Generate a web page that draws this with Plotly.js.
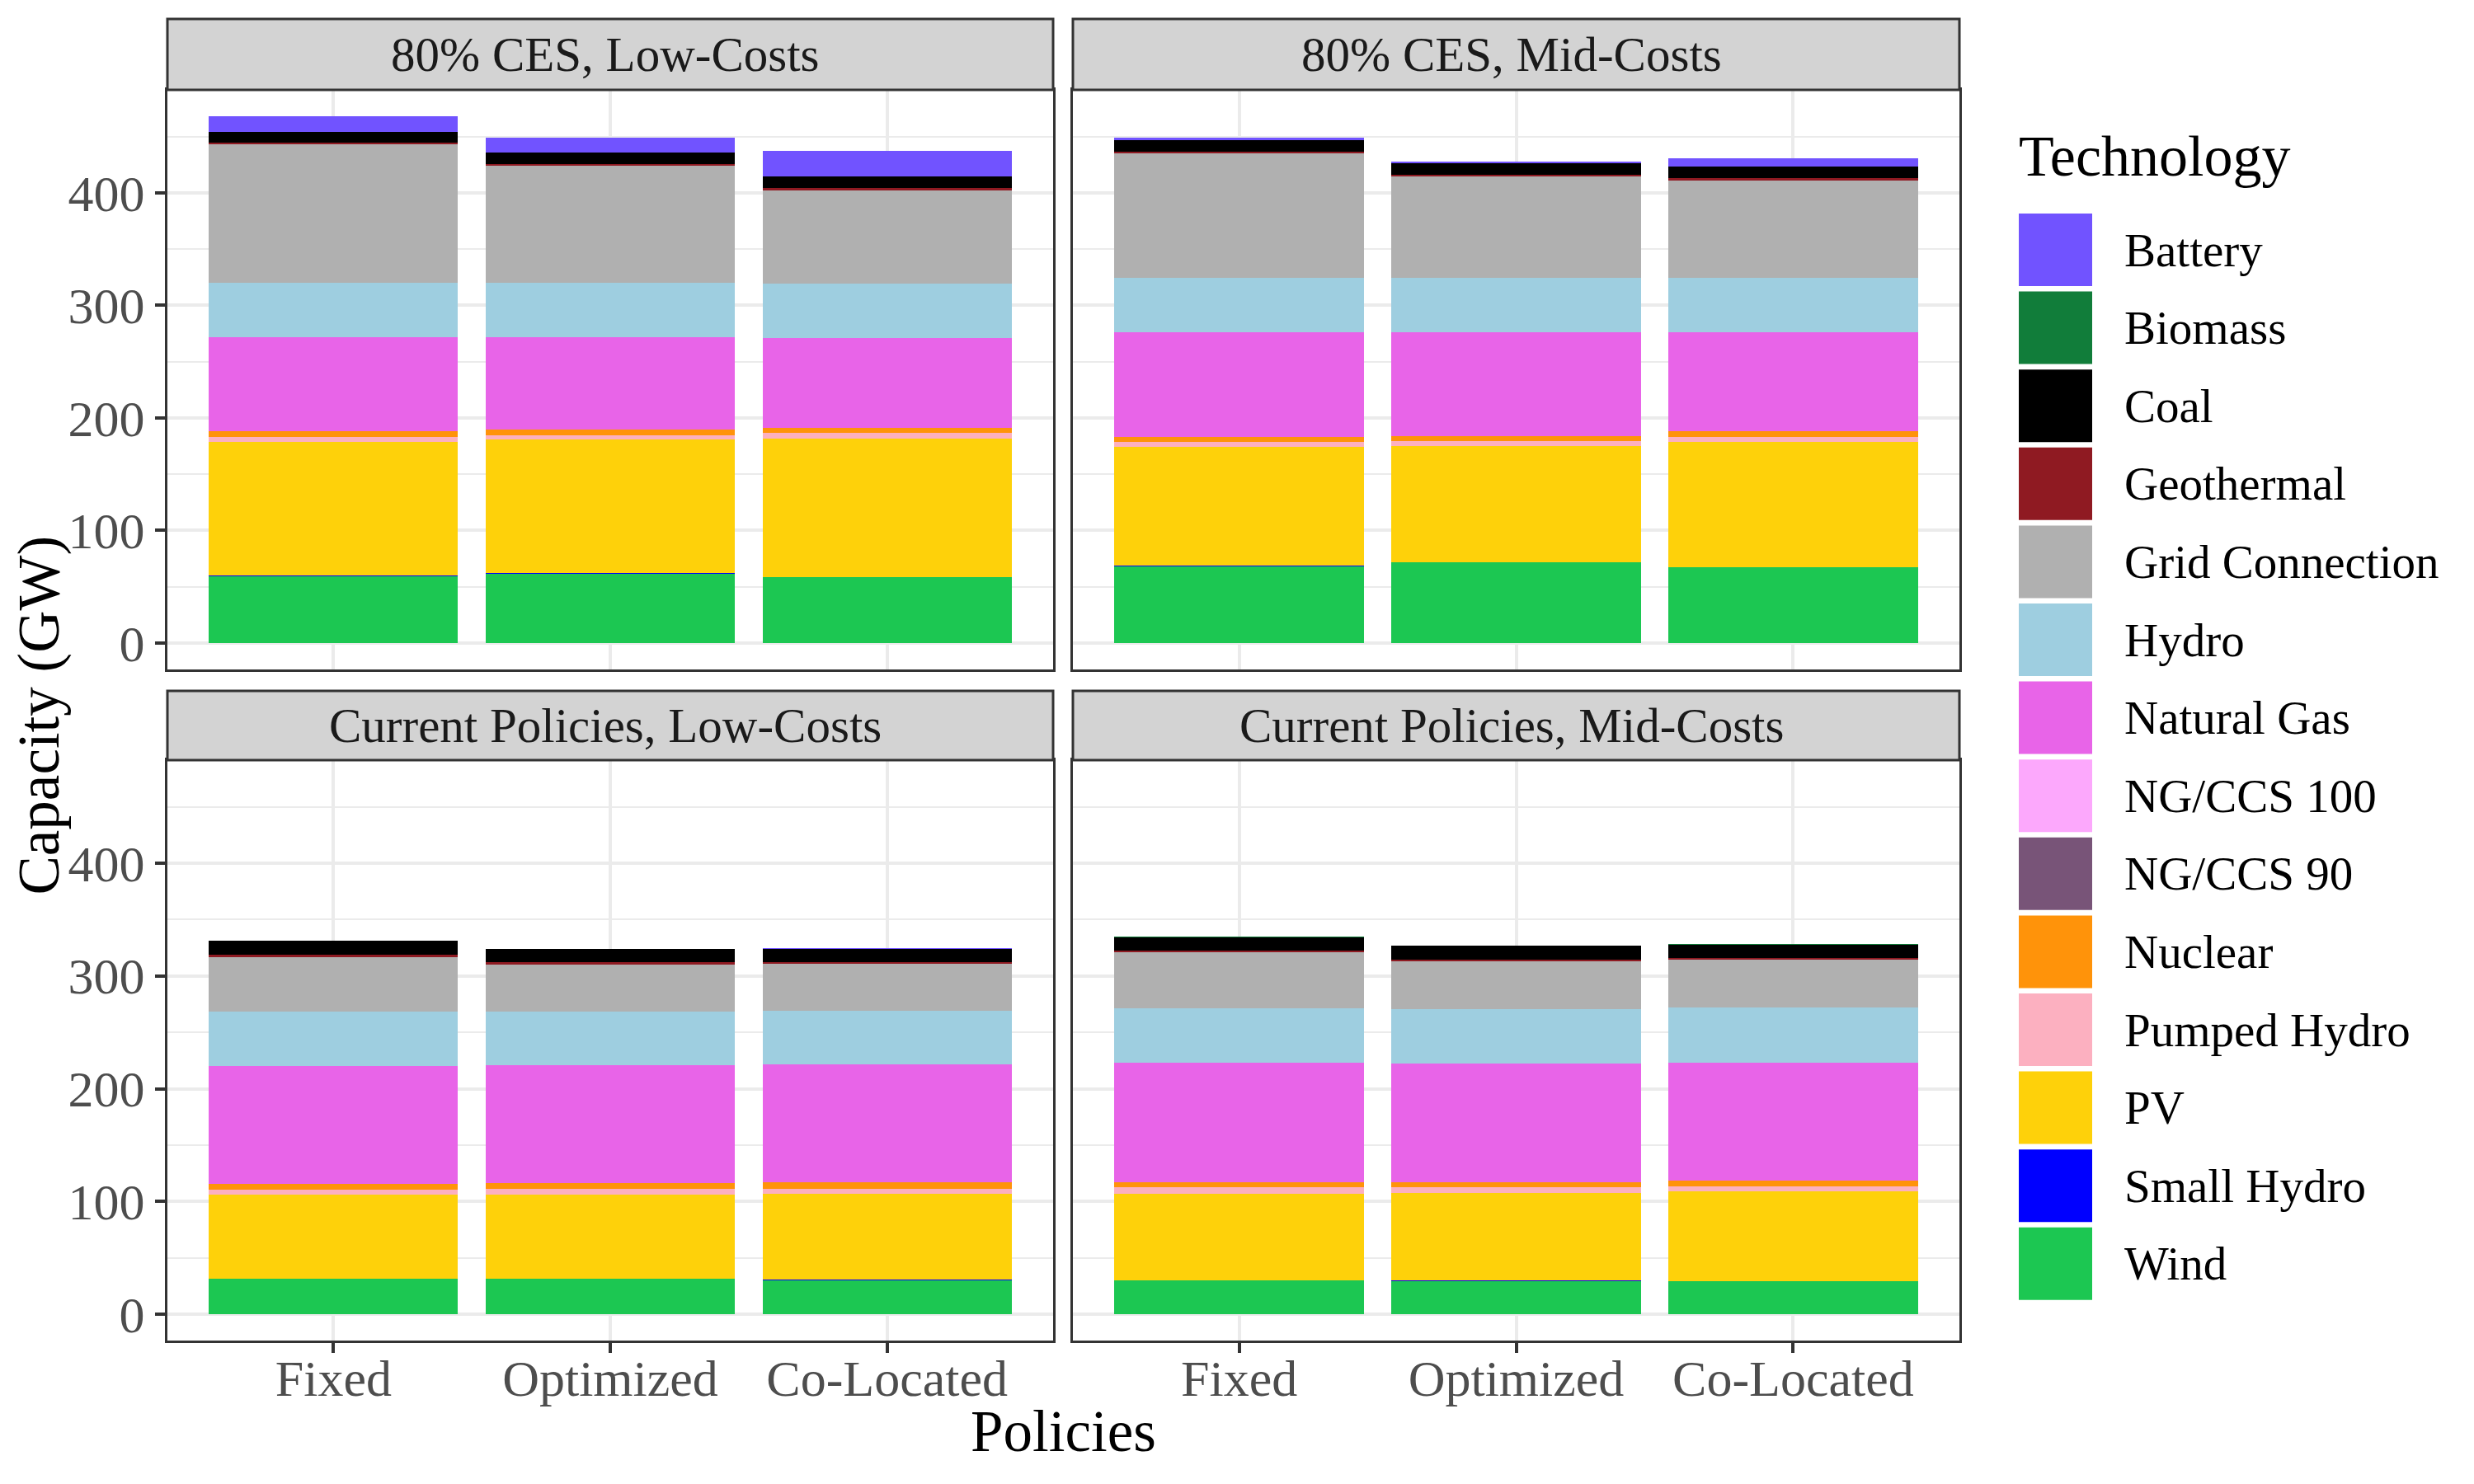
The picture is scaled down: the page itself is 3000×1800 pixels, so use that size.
<!DOCTYPE html>
<html>
<head>
<meta charset="utf-8">
<script src="https://cdn.plot.ly/plotly-3.0.1.min.js"></script>
<style>body{margin:0;background:#fff}</style>
</head>
<body>
<div id="chart" style="width:3000px;height:1800px"></div>
<script>

// ---- data ----
var policies = ['Fixed', 'Optimized', 'Co-Located']
var panels = ['80% CES, Low-Costs', '80% CES, Mid-Costs', 'Current Policies, Low-Costs', 'Current Policies, Mid-Costs']

// legend order (top of stack first)
var techs = ['Battery', 'Biomass', 'Coal', 'Geothermal', 'Grid Connection', 'Hydro', 'Natural Gas',
             'NG/CCS 100', 'NG/CCS 90', 'Nuclear', 'Pumped Hydro', 'PV', 'Small Hydro', 'Wind']
var techColors = ['#7153FF', '#117D3A', '#000000', '#8F1A22', '#B0B0B0', '#9ECEE0', '#E864E8',
                  '#FCA8FC', '#785478', '#FF930A', '#FCB0C0', '#FED10A', '#0000FF', '#1CC752']

// GW, 12 values each: panel by panel (order of panels), Fixed/Optimized/Co-Located inside
var battery =     [14.0, 13.2, 22.7,   1.7,  1.7,  7.3,    0.0,  0.0,  0.5,    0.0,  0.0,  0.0]
var biomass =     [ 0.1,  0.3,  0.1,   0.1,  0.1,  0.1,    0.3,  0.3,  0.3,    0.3,  0.3,  0.3]
var coal =        [10.0, 10.3, 10.5,  10.3, 10.0, 10.3,   12.1, 11.7, 11.4,   11.7, 11.8, 11.7]
var geothermal =  [ 1.4,  1.4,  2.0,   1.4,  1.7,  2.1,    2.1,  1.7,  1.7,    2.1,  1.7,  2.1]
var gridConn =    [123.1, 103.5, 83.0, 111.1, 90.4, 86.9, 48.8, 42.0, 41.7,   49.7, 42.8, 42.4]
var hydro =       [48.3, 48.3, 48.3,  48.2, 48.2, 48.2,   47.9, 47.2, 47.5,   48.2, 48.2, 48.3]
var naturalGas =  [82.8, 82.0, 79.3,  92.5, 91.8, 87.6,  105.0, 105.0, 104.6, 105.6, 104.9, 105.1]
var ngccs100 =    [ 0, 0, 0,   0, 0, 0,   0, 0, 0,   0, 0, 0]
var ngccs90 =     [ 0, 0, 0,   0, 0, 0,   0, 0, 0,   0, 0, 0]
var nuclear =     [ 5.2,  5.2,  4.8,   4.8,  4.8,  5.2,    4.8,  4.8,  5.2,    4.8,  4.8,  5.2]
var pumpedHydro = [ 4.4,  4.1,  4.9,   4.5,  4.5,  4.5,    4.8,  4.8,  4.8,    5.5,  4.8,  4.5]
var pv =          [119.0, 118.6, 123.0, 105.4, 102.7, 110.9, 74.1, 74.8, 76.0, 77.0, 77.5, 79.2]
var smallHydro =  [ 0.5,  0.6,  0.2,   0.5,  0.5,  0.5,    0.1,  0.1,  0.5,    0.1,  0.5,  0.5]
var wind =        [59.5, 61.5, 58.5,  68.2, 71.6, 67.2,   31.5, 31.5, 30.2,   29.8, 29.6, 28.9]

var techValues = [battery, biomass, coal, geothermal, gridConn, hydro, naturalGas,
                  ngccs100, ngccs90, nuclear, pumpedHydro, pv, smallHydro, wind]


// ---- geometry (px in a 3000x1800 page) ----
var W = 3000, H = 1800
var colX = [[203, 1277], [1301, 2376]]
var rowY = [[109, 812], [922, 1626]]      // plot area top/bottom
var stripY = [[23, 109], [838, 922]]      // strip top/bottom
var FONT = 'Liberation Serif, Times New Roman, serif'

function px(x) { return x / W }
function py(y) { return 1 - y / H }


// ---- traces: bottom of stack first ----
var traces = []
for (var p = 0; p < panels.length; p++) {
    var ax = p == 0 ? '' : (p + 1)
    for (var t = techs.length - 1; t >= 0; t--) {
        traces.push({
            type: 'bar',
            x: policies,
            y: techValues[t].slice(p * 3, p * 3 + 3),
            name: techs[t],
            width: 0.9,
            marker: {color: techColors[t], line: {width: 0}},
            xaxis: 'x' + ax,
            yaxis: 'y' + ax,
            showlegend: false,
            hovertemplate: techs[t] + ': %{y} GW<extra></extra>',
        })
    }
}


// ---- layout ----
var layout = {
    width: W,
    height: H,
    barmode: 'stack',
    showlegend: false,
    paper_bgcolor: '#ffffff',
    plot_bgcolor: '#ffffff',
    margin: {l: 0, r: 0, t: 0, b: 0},
    font: {family: FONT, color: '#4D4D4D', size: 62},
    shapes: [],
    annotations: [],
}

for (var p = 0; p < panels.length; p++) {
    var row = Math.floor(p / 2), col = p % 2
    var ax = p == 0 ? '' : (p + 1)

    layout['xaxis' + ax] = {
        type: 'category',
        domain: [px(colX[col][0]), px(colX[col][1])],
        anchor: 'y' + ax,
        range: [-0.6, 2.6],
        showgrid: true,
        gridcolor: '#EBEBEB',
        gridwidth: 4,
        showline: true,
        mirror: true,
        linecolor: '#333333',
        linewidth: 3,
        ticks: row == 1 ? 'outside' : '',
        ticklen: 12,
        tickwidth: 4,
        tickcolor: '#333333',
        showticklabels: row == 1,
        ticklabelstandoff: -22,
        tickfont: {family: FONT, size: 62, color: '#4D4D4D'},
        fixedrange: true,
    }

    layout['yaxis' + ax] = {
        domain: [py(rowY[row][1]), py(rowY[row][0])],
        anchor: 'x' + ax,
        range: [-23.4, 491.4],
        tickvals: [0, 100, 200, 300, 400],
        showgrid: true,
        gridcolor: '#EBEBEB',
        gridwidth: 4,
        minor: {dtick: 50, tick0: 0, showgrid: true, gridcolor: '#EBEBEB', gridwidth: 2, ticks: ''},
        zeroline: false,
        showline: true,
        mirror: true,
        linecolor: '#333333',
        linewidth: 3,
        ticks: col == 0 ? 'outside' : '',
        ticklen: 12,
        tickwidth: 4,
        tickcolor: '#333333',
        showticklabels: col == 0,
        tickfont: {family: FONT, size: 62, color: '#4D4D4D'},
        fixedrange: true,
    }

    // facet strip
    layout.shapes.push({
        type: 'rect', xref: 'paper', yref: 'paper',
        x0: px(colX[col][0]), x1: px(colX[col][1]),
        y0: py(stripY[row][1]), y1: py(stripY[row][0]),
        fillcolor: '#D3D3D3',
        line: {color: '#333333', width: 3},
    })
    layout.annotations.push({
        xref: 'paper', yref: 'paper',
        x: px((colX[col][0] + colX[col][1]) / 2 - 6),
        y: py((stripY[row][0] + stripY[row][1]) / 2),
        text: panels[p],
        showarrow: false,
        xanchor: 'center', yanchor: 'middle',
        font: {family: FONT, size: 59, color: '#1A1A1A'},
    })
}

// axis titles
layout.annotations.push({
    xref: 'paper', yref: 'paper',
    x: px((colX[0][0] + colX[1][1]) / 2), y: py(1736),
    text: 'Policies', showarrow: false,
    xanchor: 'center', yanchor: 'middle',
    font: {family: FONT, size: 71, color: '#000000'},
})
layout.annotations.push({
    xref: 'paper', yref: 'paper',
    x: px(47), y: py((rowY[0][0] + rowY[1][1]) / 2),
    text: 'Capacity (GW)', showarrow: false, textangle: -90,
    xanchor: 'center', yanchor: 'middle',
    font: {family: FONT, size: 71, color: '#000000'},
})


// ---- legend (drawn by hand to get ggplot-sized keys) ----
var legX = 2448, keyW = 89, keyH = 88, legTop = 259, legStep = 94.6

layout.annotations.push({
    xref: 'paper', yref: 'paper',
    x: px(legX - 2), y: py(190),
    text: 'Technology', showarrow: false,
    xanchor: 'left', yanchor: 'middle',
    font: {family: FONT, size: 70, color: '#000000'},
})

for (var i = 0; i < techs.length; i++) {
    var keyTop = legTop + i * legStep
    layout.shapes.push({
        type: 'rect', xref: 'paper', yref: 'paper',
        x0: px(legX), x1: px(legX + keyW),
        y0: py(keyTop + keyH), y1: py(keyTop),
        fillcolor: techColors[i],
        line: {width: 0},
    })
    layout.annotations.push({
        xref: 'paper', yref: 'paper',
        x: px(2574), y: py(keyTop + keyH / 2),
        text: techs[i], showarrow: false,
        xanchor: 'left', yanchor: 'middle',
        font: {family: FONT, size: 57, color: '#000000'},
    })
}

Plotly.newPlot('chart', traces, layout, {displayModeBar: false, staticPlot: true})

</script>
</body>
</html>
